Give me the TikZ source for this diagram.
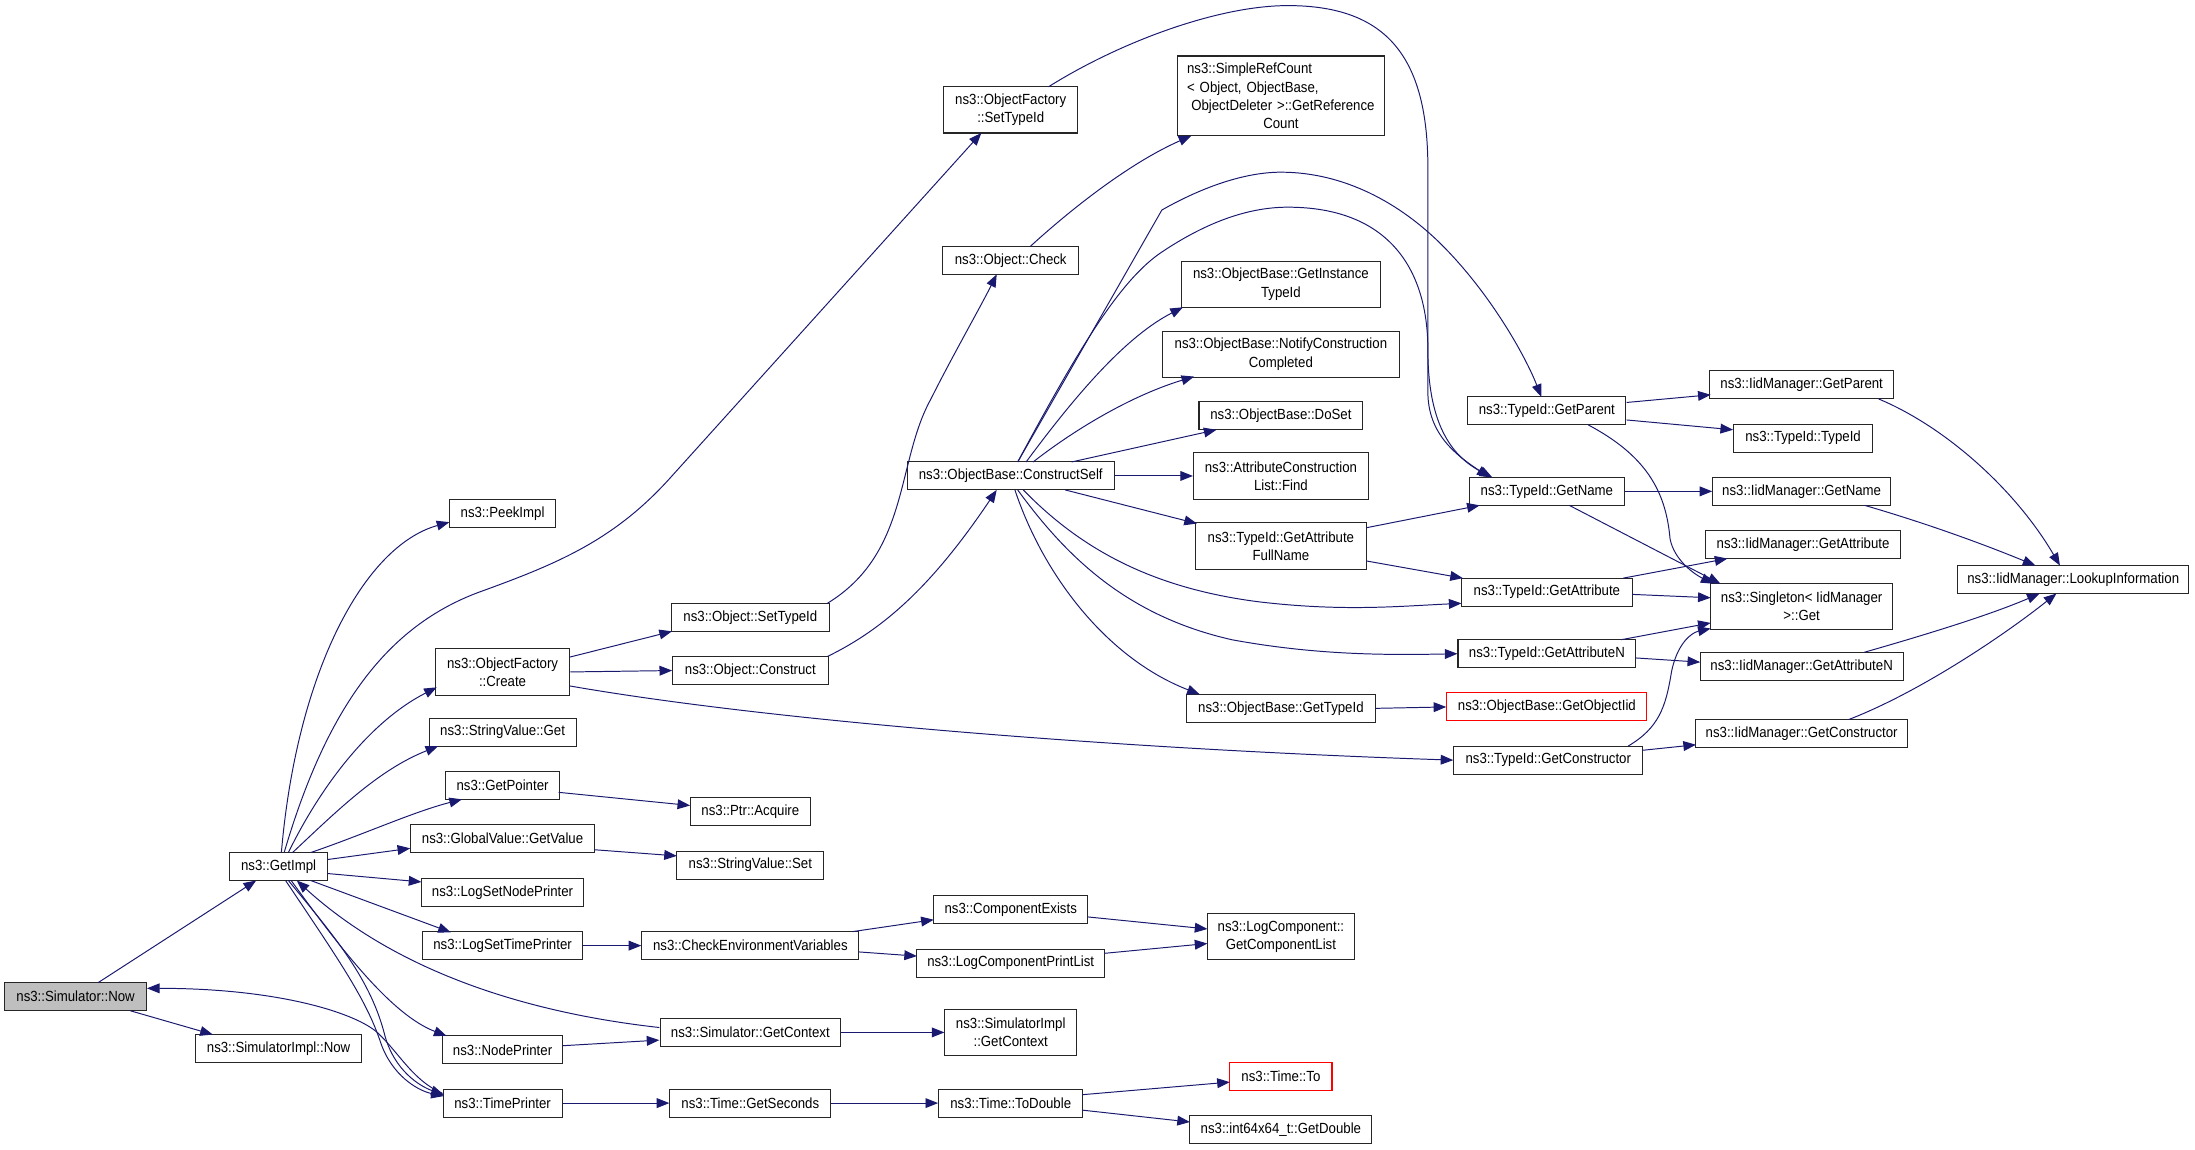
\documentclass[tikz,border=0pt]{standalone}
\usepackage{fontspec}
\setmainfont{Liberation Sans}[FakeStretch=0.9]
\usetikzlibrary{arrows.meta,calc}
\definecolor{edgeblue}{HTML}{191970}
\begin{document}
\begin{tikzpicture}[x=1pt,y=-1pt,
  fn/.style={draw=black!85,line width=0.75pt,fill=white,inner xsep=2pt,inner ysep=1pt,minimum height=20pt,font=\fontsize{10.5}{13}\selectfont,align=center},
  two/.style={minimum height=33pt},
  redbox/.style={draw=red},
  cur/.style={fill=black!25},
  call/.style={draw=edgeblue,line width=0.7pt,-{Triangle[length=9pt,width=7pt]}}]
\fill[white] (0,0) rectangle (1568,821.5);
\useasboundingbox (0,0) rectangle (1568,821.5);
% nodes
\node[fn,cur,minimum width=101pt] (now) at (54,712) {ns3::Simulator::Now};
\node[fn,minimum width=119pt] (simnow) at (199,749) {ns3::SimulatorImpl::Now};
\node[fn,minimum width=70pt] (getimpl) at (199,619) {ns3::GetImpl};
\node[fn,minimum width=76pt] (peek) at (359,367) {ns3::PeekImpl};
\node[fn,two,minimum width=96pt] (ofcreate) at (359,480) {ns3::ObjectFactory\\::Create};
\node[fn,minimum width=105pt] (svget) at (359,523) {ns3::StringValue::Get};
\node[fn,minimum width=81pt] (getptr) at (359,561) {ns3::GetPointer};
\node[fn,minimum width=131pt] (gvget) at (359,599) {ns3::GlobalValue::GetValue};
\node[fn,minimum width=116pt] (lsnp) at (359,637.5) {ns3::LogSetNodePrinter};
\node[fn,minimum width=114pt] (lstp) at (359,675.5) {ns3::LogSetTimePrinter};
\node[fn,minimum width=86pt] (nodepr) at (359,750) {ns3::NodePrinter};
\node[fn,minimum width=85pt] (timepr) at (359,788) {ns3::TimePrinter};
\node[fn,two,minimum width=96pt] (ofset) at (722,78.5) {ns3::ObjectFactory\\::SetTypeId};
\node[fn,minimum width=97pt] (ocheck) at (722,186) {ns3::Object::Check};
\node[fn,minimum width=113pt] (osettid) at (536,441) {ns3::Object::SetTypeId};
\node[fn,minimum width=111pt] (oconstr) at (536,479) {ns3::Object::Construct};
\node[fn,minimum width=86pt] (acquire) at (536,580) {ns3::Ptr::Acquire};
\node[fn,minimum width=105pt] (svset) at (536,618) {ns3::StringValue::Set};
\node[fn,minimum width=155pt] (checkenv) at (536,675.5) {ns3::CheckEnvironmentVariables};
\node[fn,minimum width=129pt] (getctx) at (536,737.5) {ns3::Simulator::GetContext};
\node[fn,minimum width=115pt] (getsec) at (536,788) {ns3::Time::GetSeconds};
\node[fn,minimum width=148pt] (cself) at (722,340) {ns3::ObjectBase::ConstructSelf};
\node[fn,minimum width=110pt] (compex) at (722,650) {ns3::ComponentExists};
\node[fn,minimum width=134pt] (complist) at (722,688) {ns3::LogComponentPrintList};
\node[fn,two,minimum width=94pt] (simctx) at (722,737.5) {ns3::SimulatorImpl\\::GetContext};
\node[fn,minimum width=103pt] (todouble) at (722,788) {ns3::Time::ToDouble};
\node[fn,minimum width=148pt,minimum height=57pt,text width=134pt,align=left] (srefc) at (915,68.5) {ns3::SimpleRefCount\\< Object, ObjectBase,\\\hspace*{3pt}ObjectDeleter >::GetReference\\\makebox[134pt][c]{Count}};
\node[fn,two,minimum width=142pt] (instid) at (915,203) {ns3::ObjectBase::GetInstance\\TypeId};
\node[fn,two,minimum width=169pt] (notify) at (915,253) {ns3::ObjectBase::NotifyConstruction\\Completed};
\node[fn,minimum width=117pt] (doset) at (915,297) {ns3::ObjectBase::DoSet};
\node[fn,two,minimum width=125pt] (find) at (915,340) {ns3::AttributeConstruction\\List::Find};
\node[fn,two,minimum width=122pt] (afull) at (915,390) {ns3::TypeId::GetAttribute\\FullName};
\node[fn,minimum width=135pt] (obgettid) at (915,506) {ns3::ObjectBase::GetTypeId};
\node[fn,two,minimum width=105pt] (getcl) at (915,669) {ns3::LogComponent::\\GetComponentList};
\node[fn,redbox,minimum width=73pt] (timeto) at (915,769) {ns3::Time::To};
\node[fn,minimum width=130pt] (getdouble) at (915,807) {ns3::int64x64\_t::GetDouble};
\node[fn,minimum width=113pt] (tparent) at (1105,293.5) {ns3::TypeId::GetParent};
\node[fn,minimum width=111pt] (tname) at (1105,351) {ns3::TypeId::GetName};
\node[fn,minimum width=122pt] (tattr) at (1105,423) {ns3::TypeId::GetAttribute};
\node[fn,minimum width=127pt] (tattrn) at (1105,467) {ns3::TypeId::GetAttributeN};
\node[fn,redbox,minimum width=143pt] (objiid) at (1105,505) {ns3::ObjectBase::GetObjectIid};
\node[fn,minimum width=135pt] (tctor) at (1106,543) {ns3::TypeId::GetConstructor};
\node[fn,minimum width=131pt] (iparent) at (1287,275) {ns3::IidManager::GetParent};
\node[fn,minimum width=99pt] (ttid) at (1288,313) {ns3::TypeId::TypeId};
\node[fn,minimum width=127pt] (iname) at (1287,351) {ns3::IidManager::GetName};
\node[fn,minimum width=139pt] (iattr) at (1288,389) {ns3::IidManager::GetAttribute};
\node[fn,two,minimum width=130pt] (single) at (1287,433) {ns3::Singleton< IidManager\\ >::Get};
\node[fn,minimum width=145pt] (iattrn) at (1287,476) {ns3::IidManager::GetAttributeN};
\node[fn,minimum width=151pt] (ictor) at (1287,524) {ns3::IidManager::GetConstructor};
\node[fn,minimum width=165pt] (lookup) at (1481,414) {ns3::IidManager::LookupInformation};
% edges
\draw[call] ($(now)+(16,-10)$) -- ($(getimpl)+(-16,10)$);
\draw[call] ($(now)+(39,10)$) -- ($(simnow)+(-47,-10)$);
\draw[call] ($(timepr)+(-43,-7)$) .. controls (295,772) and (285,752) .. (270,738) .. controls (255,724) and (200,706) .. ($(now)+(51,-6)$);
\draw[call] ($(getimpl)+(2,-10)$) .. controls (212,480) and (260,390) .. ($(peek)+(-38,6)$);
\draw[call] ($(getimpl)+(4,-10)$) .. controls (235,500) and (280,445) .. (345,422) .. controls (400,402) and (440,385) .. (480,340) -- ($(ofset)+(-21,16.5)$);
\draw[call] ($(getimpl)+(7,-10)$) .. controls (230,560) and (265,515) .. ($(ofcreate)+(-47,11)$);
\draw[call] ($(getimpl)+(10,-10)$) .. controls (240,580) and (270,550) .. ($(svget)+(-46,10)$);
\draw[call] ($(getimpl)+(23,-10)$) .. controls (260,596) and (295,580) .. ($(getptr)+(-29,10)$);
\draw[call] ($(getimpl)+(35,-5)$) -- ($(gvget)+(-66,7)$);
\draw[call] ($(getimpl)+(35,5)$) -- ($(lsnp)+(-58,-7.5)$);
\draw[call] ($(getimpl)+(23,10)$) -- ($(lstp)+(-37,-9.5)$);
\draw[call] ($(getimpl)+(9,10)$) .. controls (245,680) and (280,725) .. ($(nodepr)+(-40,-10)$);
\draw[call] ($(getimpl)+(7,10)$) .. controls (240,670) and (265,700) .. (275,740) .. controls (282,765) and (300,776) .. ($(timepr)+(-42,-6)$);
\draw[call] ($(getimpl)+(5,10)$) .. controls (245,690) and (262,715) .. (272,745) .. controls (280,768) and (298,779) .. ($(timepr)+(-42,-5)$);
\draw[call] ($(getctx)+(-65,-3.5)$) .. controls (390,725) and (290,700) .. ($(getimpl)+(13,10)$);
\draw[call] ($(nodepr)+(43,-3)$) -- ($(getctx)+(-65,5.5)$);
\draw[call] (getctx.east) -- (simctx.west);
\draw[call] (timepr.east) -- (getsec.west);
\draw[call] (getsec.east) -- (todouble.west);
\draw[call] ($(todouble)+(51,-6)$) -- ($(timeto)+(-36.5,4)$);
\draw[call] ($(todouble)+(51,5)$) -- ($(getdouble)+(-65,-5.5)$);
\draw[call] (lstp.east) -- (checkenv.west);
\draw[call] ($(checkenv)+(73,-10)$) -- ($(compex)+(-55,7)$);
\draw[call] ($(checkenv)+(77.5,4.5)$) -- ($(complist)+(-67,-5)$);
\draw[call] ($(compex)+(55,5)$) -- ($(getcl)+(-52.5,-5.4)$);
\draw[call] ($(complist)+(67,-7)$) -- ($(getcl)+(-52.5,5)$);
\draw[call] ($(getptr)+(40,5)$) -- ($(acquire)+(-43,-4.6)$);
\draw[call] ($(gvget)+(65.5,8)$) -- ($(svset)+(-52.5,-6.6)$);
\draw[call] ($(ofcreate)+(48,-10.6)$) -- ($(osettid)+(-56,10)$);
\draw[call] (ofcreate.east) -- (oconstr.west);
\draw[call] ($(ofcreate)+(48,10)$) .. controls (550,515) and (800,535) .. (tctor.west);
\draw[call] ($(osettid)+(55,-10)$) .. controls (650,395) and (640,330) .. (665,285) .. controls (680,255) and (700,220) .. ($(ocheck)+(-10,10)$);
\draw[call] ($(oconstr)+(55,-10)$) .. controls (630,450) and (665,420) .. ($(cself)+(-10,10)$);
\draw[call] ($(ocheck)+(14,-10)$) .. controls (770,145) and (810,115) .. ($(srefc)+(-64,28.5)$);
\draw[call] ($(ofset)+(27,-16.5)$) .. controls (800,30) and (870,4) .. (920,4) .. controls (990,4) and (1020,40) .. (1020,120) -- (1020,280) .. controls (1020,310) and (1040,325) .. ($(tname)+(-41,-10)$);
\draw[call] ($(cself)+(5,-10)$) -- (830,150) .. controls (860,133) and (890,123) .. (915,123) .. controls (960,123) and (1000,145) .. (1030,175) .. controls (1065,210) and (1090,255) .. ($(tparent)+(-4,-10)$);
\draw[call] ($(cself)+(5,-10)$) .. controls (770,250) and (800,200) .. (830,180) .. controls (860,160) and (890,148) .. (920,148) .. controls (990,148) and (1020,190) .. (1020,250) .. controls (1020,300) and (1035,325) .. ($(tname)+(-39,-10)$);
\draw[call] ($(cself)+(11,-10)$) .. controls (770,280) and (805,240) .. ($(instid)+(-70,16.5)$);
\draw[call] ($(cself)+(16,-10)$) .. controls (770,305) and (810,282) .. ($(notify)+(-62,16)$);
\draw[call] ($(cself)+(43.5,-10)$) -- ($(doset)+(-46,10)$);
\draw[call] (cself.east) -- (find.west);
\draw[call] ($(cself)+(39,10)$) -- ($(afull)+(-60,-16)$);
\draw[call] ($(afull)+(61,-13)$) -- ($(tname)+(-48,10)$);
\draw[call] ($(afull)+(61,10.7)$) -- ($(tattr)+(-60,-10)$);
\draw[call] ($(cself)+(9,10)$) .. controls (770,390) and (820,420) .. (900,430) .. controls (960,437) and (1000,433) .. ($(tattr)+(-61,8)$);
\draw[call] ($(cself)+(5,10)$) .. controls (762,398) and (805,440) .. (880,457) .. controls (940,468) and (990,468) .. (tattrn.west);
\draw[call] ($(cself)+(3,10)$) .. controls (745,410) and (790,470) .. ($(obgettid)+(-58,-10)$);
\draw[call] (obgettid.east) -- (objiid.west);
\draw[call] ($(tparent)+(57,-6)$) -- ($(iparent)+(-65,7)$);
\draw[call] ($(tparent)+(57,6.5)$) -- ($(ttid)+(-50,-6)$);
\draw[call] ($(tparent)+(29.5,10)$) .. controls (1175,325) and (1190,350) .. (1193,385) .. controls (1196,400) and (1210,410) .. ($(single)+(-63,-16)$);
\draw[call] (tname.east) -- (iname.west);
\draw[call] ($(tname)+(16,10)$) -- ($(single)+(-58,-16)$);
\draw[call] ($(tattr)+(54.5,-10)$) -- ($(iattr)+(-54,10)$);
\draw[call] ($(tattr)+(61,1.6)$) -- ($(single)+(-65,-6)$);
\draw[call] ($(tattrn)+(53,-10)$) -- ($(single)+(-65,12)$);
\draw[call] ($(tattrn)+(63.5,3)$) -- ($(iattrn)+(-72.5,-3)$);
\draw[call] ($(tctor)+(57,-10)$) .. controls (1185,520) and (1190,505) .. (1194,480) .. controls (1198,460) and (1208,452) .. ($(single)+(-65,16)$);
\draw[call] ($(tctor)+(67,-7)$) -- ($(ictor)+(-75.5,8)$);
\draw[call] ($(iparent)+(55,10)$) .. controls (1390,305) and (1440,350) .. ($(lookup)+(-9.5,-10)$);
\draw[call] ($(iname)+(45,10)$) .. controls (1380,375) and (1420,390) .. ($(lookup)+(-27,-10)$);
\draw[call] ($(iattrn)+(44.6,-10)$) .. controls (1370,455) and (1420,440) .. ($(lookup)+(-24,10)$);
\draw[call] ($(ictor)+(33.6,-10)$) .. controls (1370,495) and (1430,455) .. ($(lookup)+(-12,10)$);
\end{tikzpicture}
\end{document}
